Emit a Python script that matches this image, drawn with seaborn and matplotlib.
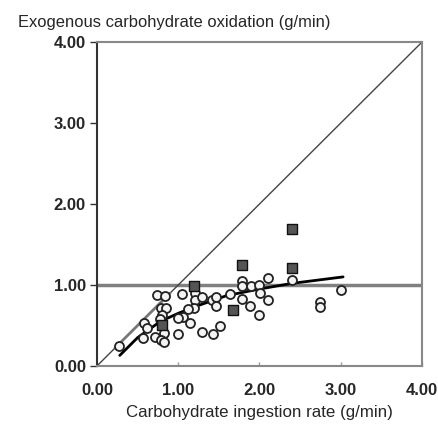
import matplotlib
matplotlib.use("Agg")
import matplotlib.pyplot as plt
import seaborn as sns
import pandas as pd

circle_x = [0.27, 0.74, 0.84, 0.79, 0.85, 0.80, 0.58, 0.61, 0.77, 0.82, 0.72, 0.79,
            0.57, 0.83, 1.00, 1.05, 1.21, 1.21, 1.19, 1.12, 1.06, 1.00, 1.14, 1.29,
            1.43, 1.51, 1.29, 1.41, 1.47, 1.47, 1.64, 1.79, 1.79, 1.79, 1.90, 2.00,
            2.01, 1.88, 1.99, 2.11, 2.11, 2.40, 2.74, 2.74, 3.01]
circle_y = [0.25, 0.88, 0.86, 0.72, 0.71, 0.63, 0.53, 0.47, 0.58, 0.41, 0.36, 0.32,
            0.34, 0.30, 0.40, 0.89, 0.90, 0.81, 0.72, 0.70, 0.61, 0.59, 0.53, 0.42,
            0.40, 0.49, 0.85, 0.81, 0.85, 0.74, 0.89, 0.83, 1.05, 0.99, 0.99, 1.00,
            0.90, 0.74, 0.63, 1.09, 0.81, 1.06, 0.79, 0.73, 0.94]

square_x = [0.80, 1.20, 1.67, 1.79, 2.40, 2.40]
square_y = [0.50, 0.99, 0.69, 1.25, 1.69, 1.21]

fit_x = [0.28, 0.50, 0.78, 1.00, 1.20, 1.60, 2.00, 2.40, 3.03]
fit_y = [0.13, 0.35, 0.55, 0.65, 0.73, 0.87, 0.95, 1.02, 1.10]

identity = [0.0, 4.0]
ticks = [0.0, 1.0, 2.0, 3.0, 4.0]
tick_labels = ["0.00", "1.00", "2.00", "3.00", "4.00"]

sns.set_style("white")
plt.rcParams['font.family'] = ['Liberation Sans', 'DejaVu Sans']

fig = plt.figure(figsize=(4.39, 4.26), dpi=100)
ax = fig.add_axes([0.221, 0.141, 0.740, 0.760])

ax.axhline(1.0, color="#808080", lw=2.5, zorder=1)
sns.lineplot(x=identity, y=identity, ax=ax, color="#444444", lw=1.0, zorder=2)
sns.lineplot(x=[0.22, 0.90], y=[0.22, 0.90], ax=ax, color="#777777", lw=2.0, zorder=2)
sns.lineplot(x=fit_x, y=fit_y, ax=ax, color="black", lw=2.0, zorder=4)

circ = pd.DataFrame({"x": circle_x, "y": circle_y})
sq = pd.DataFrame({"x": square_x, "y": square_y})
sns.scatterplot(data=circ, x="x", y="y", ax=ax, marker="o", s=42,
                facecolor="#f4f4f4", edgecolor="#222222", linewidth=1.3, zorder=5)
sns.scatterplot(data=sq, x="x", y="y", ax=ax, marker="s", s=42,
                color="#555555", edgecolor="#111111", linewidth=1.0, zorder=6)

ax.set_xlim(0, 4)
ax.set_ylim(0, 4)
ax.set_xticks(ticks)
ax.set_yticks(ticks)
ax.set_xticklabels(tick_labels, fontsize=12, fontweight="bold")
ax.set_yticklabels(tick_labels, fontsize=12, fontweight="bold")
ax.tick_params(axis="y", which="both", left=True, length=5, width=1, color="#333333", pad=3)
ax.tick_params(axis="x", which="both", bottom=True, length=3, width=1, color="#999999", pad=12, direction="in")
for side, sp in ax.spines.items():
    sp.set_visible(True)
    sp.set_color("#888888")
    sp.set_linewidth(1.5)
ax.spines["left"].set_color("#333333")

ax.set_xlabel("Carbohydrate ingestion rate (g/min)", fontsize=12.2, labelpad=5)
ax.set_ylabel("")
fig.text(0.041, 0.948, "Exogenous carbohydrate oxidation (g/min)", fontsize=11.9,
         ha="left", va="center")

fig.savefig("out.png", dpi=100)
